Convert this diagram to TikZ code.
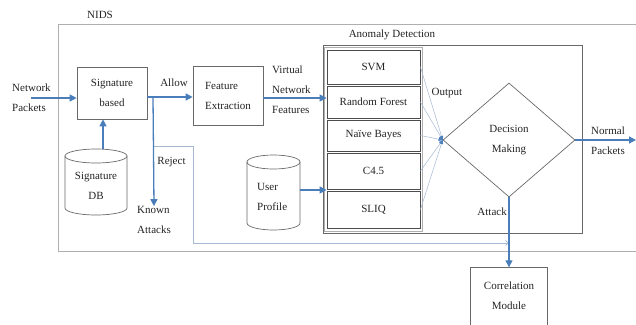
\documentclass[tikz,border=0pt]{standalone}
\usepackage{fontspec}
\setmainfont{Liberation Serif}
\usetikzlibrary{arrows.meta,shapes.geometric,calc}
\definecolor{flow}{RGB}{74,126,187}
\definecolor{frame}{RGB}{175,175,175}
\definecolor{boxline}{RGB}{105,105,105}
\definecolor{faint}{RGB}{165,185,210}
\definecolor{ink}{RGB}{35,35,35}
\begin{document}
\begin{tikzpicture}[x=1pt,y=-1pt,
  every node/.style={font=\fontsize{11}{20}\selectfont, text=ink, inner sep=0pt},
  procbox/.style={draw=boxline, line width=0.7pt},
  clf/.style={draw=black!70, line width=0.9pt, minimum width=93pt},
  arr/.style={draw=flow, line width=1.3pt, -{Triangle[length=7pt,width=7pt]}},
  fan/.style={draw=faint, line width=0.5pt, -{Triangle[length=4pt,width=3.5pt,fill=flow,color=flow]}},
  faintline/.style={draw=faint, line width=0.7pt},
]
\useasboundingbox (0,0) rectangle (636,324);

% NIDS frame (open to the right)
\draw[frame, line width=0.8pt] (636,24) -- (58,24) -- (58,251) -- (636,251);
\node (nids) at (100,15) {NIDS};

% signature stage
\node[align=left, anchor=west] (netp) at (12,98) {Network\\Packets};
\node[procbox, minimum width=70pt, minimum height=52pt, align=center] (sig) at (112,93) {Signature\\based};
\node[procbox, minimum width=70pt, minimum height=59pt, align=left] (feat) at (228,95.5) {Feature\\Extraction};
\node (allow) at (174,83) {Allow};
\node[align=left, anchor=west] (vnf) at (272,90) {Virtual\\Network\\Features};
\coordinate (split) at (153,97);
\node (reject) at (171.5,162) {Reject};
\node[align=left] (known) at (154,220) {Known\\Attacks};

% Signature DB cylinder
\node[minimum width=62pt, minimum height=66pt] (sdb) at (96,182) {};
\draw[boxline, line width=0.7pt] (65,156) -- (65,208) arc[start angle=180, end angle=0, x radius=31, y radius=7] -- (127,156);
\draw[boxline, line width=0.7pt] (96,156) ellipse[x radius=31, y radius=7];
\node[align=center] (sdbtext) at (96,186) {Signature\\DB};

% User Profile cylinder
\node[minimum width=53pt, minimum height=75pt] (up) at (273.5,192.5) {};
\draw[boxline, line width=0.7pt] (247,162) -- (247,223) arc[start angle=180, end angle=0, x radius=26.5, y radius=7] -- (300,162);
\draw[boxline, line width=0.7pt] (273.5,162) ellipse[x radius=26.5, y radius=7];
\node[align=left, anchor=west] (uptext) at (257,197) {User\\Profile};

% anomaly detection block
\node[draw=boxline, line width=0.8pt, minimum width=259pt, minimum height=188pt] (ad) at (452.5,139) {};
\node (adl) at (392,35) {Anomaly Detection};
\draw[frame, line width=0.6pt] (324.5,47.5) rectangle (422.5,231);
\node[clf, minimum height=34pt] (svm) at (373.5,67) {SVM};
\node[clf, minimum height=32pt] (rf) at (373.5,102) {Random Forest};
\node[clf, minimum height=31pt] (nb) at (373.5,135.5) {Naïve Bayes};
\node[clf, minimum height=36pt] (c45) at (373.5,171) {C4.5};
\node[clf, minimum height=37pt] (sliq) at (373.5,209.5) {SLIQ};

\node[diamond, draw=boxline, line width=0.7pt, minimum width=132pt, minimum height=114pt, align=center] (dm) at (509,140) {Decision\\Making};
\node (outl) at (447,93) {Output};
\node[align=left] (np) at (608,141) {Normal\\Packets};
\coordinate (npend) at (636,140);
\node[anchor=east] (atk) at (507,212) {Attack};

% correlation module (lower edge runs off the page)
\node[minimum width=76pt, minimum height=57pt, align=center] (corr) at (509,296) {Correlation\\Module};
\draw[boxline, line width=0.7pt] (corr.south west) -- (corr.north west) -- (corr.north east) -- (corr.south east);

% reject side path
\coordinate (rj1) at (153,146);
\coordinate (rj2) at (193,243);
\draw[faintline, -{Straight Barb[length=3pt,width=5pt]}] (rj1) -| (rj2) -- (rj2 -| dm.south);

% connectors
\draw[arr] (netp.center) -- (netp.center -| sig.west);
\draw[arr] (split -| sig.east) -- (split -| feat.west);
\draw[arr] (split) -- (known.north);
\draw[arr] ([xshift=7pt]sdb.north) -- ([xshift=7pt]sdb.north |- sig.south);
\draw[arr] (feat.east |- 0,98) -- (rf.west |- 0,98);
\draw[arr] (up.east |- 0,190) -- (c45.west |- 0,190);
\draw[fan] (svm.east) -- (dm.west);
\draw[fan] (rf.east) -- (dm.west);
\draw[fan] (nb.east) -- (dm.west);
\draw[fan] (c45.east) -- (dm.west);
\draw[fan] (sliq.east) -- (dm.west);
\draw[arr] (dm.east) -- (npend);
\draw[arr] (dm.south) -- (corr.north);
\end{tikzpicture}
\end{document}
